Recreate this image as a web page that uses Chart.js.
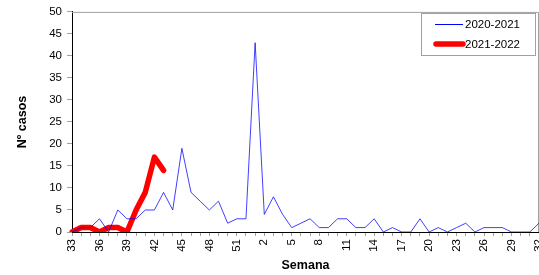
<!DOCTYPE html>
<html>
<head>
<meta charset="utf-8">
<script src="https://cdn.jsdelivr.net/npm/chart.js@4/dist/chart.umd.min.js"></script>
<style>
  html, body { margin: 0; padding: 0; background: #fff; overflow: hidden; }
</style>
</head>
<body>
<canvas id="casosChart" width="539" height="275"></canvas>
<script>
// semanas epidemiologicas (33 a 52, luego 1 a 32)
const weeks = [33, 34, 35, 36, 37, 38, 39, 40, 41, 42, 43, 44, 45, 46, 47, 48, 49, 50, 51, 52,
  1, 2, 3, 4, 5, 6, 7, 8, 9, 10, 11, 12, 13, 14, 15, 16, 17, 18, 19, 20,
  21, 22, 23, 24, 25, 26, 27, 28, 29, 30, 31, 32];

const season2020 = [0, 1, 1, 3, 0, 5, 3, 3, 5, 5, 9, 5, 19, 9, 7, 5, 7, 2, 3, 3,
  43, 4, 8, 4, 1, 2, 3, 1, 1, 3, 3, 1, 1, 3, 0, 1, 0, 0, 3, 0,
  1, 0, 1, 2, 0, 1, 1, 1, 0, 0, 0, 2];

const season2021 = [0, 1, 1, 0, 1, 1, 0, 5, 9, 17, 14];

const seriesNames = ['2020-2021', '2021-2022'];

const FONT = '"Liberation Sans", Arial, sans-serif';

// marco gris arriba y a la derecha del area de trazado
const frame = {
  id: 'frame',
  beforeDatasetsDraw(chart) {
    const { ctx, chartArea: a } = chart;
    ctx.save();
    ctx.strokeStyle = '#a0a0a0';
    ctx.lineWidth = 1;
    ctx.beginPath();
    ctx.moveTo(a.left, a.top + 0.5);
    ctx.lineTo(a.right - 0.5, a.top + 0.5);
    ctx.lineTo(a.right - 0.5, a.bottom);
    ctx.stroke();
    ctx.restore();
  }
};

// leyenda con recuadro dentro del grafico
const boxLegend = {
  id: 'boxLegend',
  afterDraw(chart) {
    const ctx = chart.ctx;
    const x = 421, y = 13, w = 114, h = 42;
    ctx.save();
    ctx.fillStyle = '#fff';
    ctx.fillRect(x, y, w, h);
    ctx.strokeStyle = '#a0a0a0';
    ctx.lineWidth = 1;
    ctx.strokeRect(x + 0.5, y + 0.5, w, h);
    ctx.font = '11.5px ' + FONT;
    ctx.textBaseline = 'middle';
    chart.data.datasets.forEach((ds, i) => {
      const thick = ds.borderWidth > 2;
      const ly = y + 11 + i * 20 + (thick ? 0 : 0.5);
      ctx.strokeStyle = ds.borderColor;
      ctx.lineWidth = thick ? ds.borderWidth : 1;
      ctx.lineCap = thick ? 'round' : 'butt';
      ctx.beginPath();
      ctx.moveTo(x + (thick ? 15 : 14), ly);
      ctx.lineTo(x + 42, ly);
      ctx.stroke();
      ctx.fillStyle = '#000';
      ctx.fillText(ds.label, x + 44, y + 11.5 + i * 20);
    });
    ctx.restore();
  }
};

new Chart(document.getElementById('casosChart'), {
  type: 'line',
  data: {
    labels: weeks,
    datasets: [{
      label: seriesNames[0],
      data: season2020,
      borderColor: '#0000ff',
      borderWidth: 0.75,
      pointRadius: 0,
      tension: 0
    }, {
      label: seriesNames[1],
      data: season2021,
      borderColor: '#ff0000',
      borderWidth: 5.5,
      borderJoinStyle: 'round',
      borderCapStyle: 'round',
      pointRadius: 0,
      tension: 0
    }]
  },
  options: {
    responsive: false,
    animation: false,
    devicePixelRatio: 1,
    layout: { padding: { top: 11, right: 0, bottom: 0, left: 0 } },
    plugins: {
      legend: { display: false },
      tooltip: { enabled: false }
    },
    scales: {
      x: {
        type: 'category',
        offset: false,
        grid: { drawOnChartArea: false, color: '#a0a0a0', tickLength: 4 },
        border: { color: '#000', width: 1 },
        ticks: {
          autoSkip: false,
          minRotation: 90,
          maxRotation: 90,
          padding: 3,
          color: '#000',
          font: { family: FONT, size: 11.5 },
          callback: function (value, index) {
            return index % 3 === 0 ? String(this.getLabelForValue(value)) : '';
          }
        },
        title: {
          display: true,
          text: 'Semana',
          color: '#000',
          font: { family: FONT, size: 12.5, weight: 'bold' },
          padding: { top: 0, bottom: 1.5 }
        },
        afterFit(scale) {
          scale.height = 43;
          scale.paddingLeft = 0;
          scale.paddingRight = 0;
        }
      },
      y: {
        min: 0,
        max: 50,
        grid: { drawOnChartArea: false, color: '#a0a0a0', tickLength: 5 },
        border: { color: '#000', width: 1 },
        ticks: {
          stepSize: 5,
          padding: 5,
          color: '#000',
          font: { family: FONT, size: 11.5 }
        },
        title: {
          display: true,
          text: 'Nº casos',
          color: '#000',
          font: { family: FONT, size: 12.5, weight: 'bold' },
          padding: { top: 15, bottom: 0 }
        },
        afterFit(scale) {
          scale.width = 72;
        }
      }
    }
  },
  plugins: [frame, boxLegend]
});
</script>
</body>
</html>
